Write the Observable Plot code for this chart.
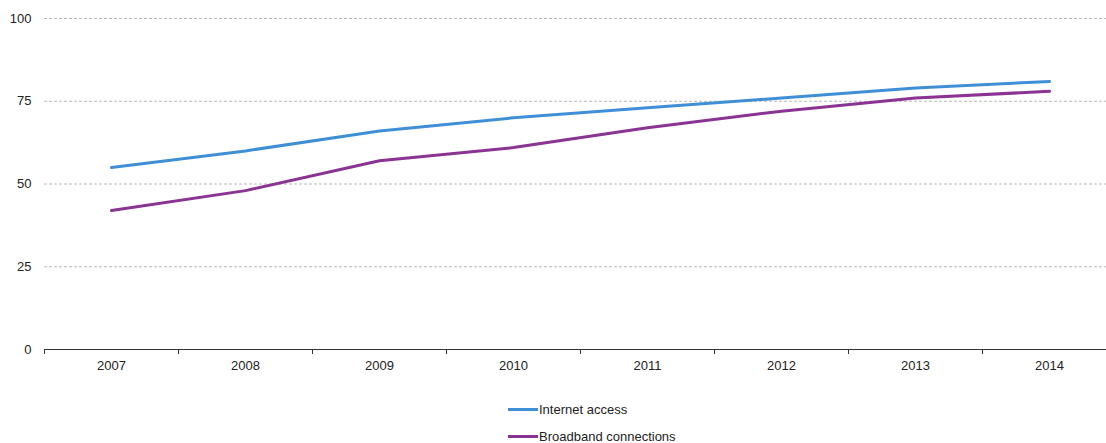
<!DOCTYPE html>
<html>
<head>
<meta charset="utf-8">
<script src="https://cdn.jsdelivr.net/npm/d3@7"></script>
<script src="https://cdn.jsdelivr.net/npm/@observablehq/plot@0.6"></script>
<style>
  html, body { margin: 0; padding: 0; background: #fff; overflow: hidden; }
  body { width: 1106px; height: 443px; position: relative; font-family: "Liberation Sans", Arial, sans-serif; }
  #legend { position: absolute; left: 508px; top: 396px; font-size: 13px; color: #222; }
  .item { display: flex; align-items: center; height: 27px; }
  .swatch { width: 30px; height: 3px; margin-right: 1px; }
</style>
</head>
<body>
<div id="chart"></div>
<div id="legend"></div>
<script>
const years = [2007, 2008, 2009, 2010, 2011, 2012, 2013, 2014];
const internetAccess = [55, 60, 66, 70, 73, 76, 79, 81];
const broadband = [42, 48, 57, 61, 67, 72, 76, 78];
const seriesNames = ["Internet access", "Broadband connections"];
const seriesColors = ["#3f8fd7", "#8b3393"];
const yTicks = [0, 25, 50, 75, 100];

const data = [
  ...years.map((y, i) => ({year: y, value: internetAccess[i], series: seriesNames[0]})),
  ...years.map((y, i) => ({year: y, value: broadband[i], series: seriesNames[1]}))
];
const boundaries = years.map(y => y - 0.5);

const chart = Plot.plot({
  width: 1106,
  height: 390,
  marginLeft: 44,
  marginRight: 0,
  marginTop: 18,
  marginBottom: 41,
  style: {fontFamily: "'Liberation Sans', Arial, sans-serif", fontSize: "13px", color: "#222", background: "#fff"},
  x: {domain: [2006.5, 2014.5], range: [44, 1116]},
  y: {domain: [0, 100]},
  color: {domain: seriesNames, range: seriesColors},
  marks: [
    Plot.ruleY([25, 50, 75, 100], {stroke: "#b8b8b8", strokeDasharray: "3,2", strokeWidth: 1}),
    Plot.axisY({ticks: yTicks, tickSize: 0, tickPadding: 13, label: null, fill: "#222"}),
    Plot.axisX({ticks: years, tickSize: 0, tickPadding: 11, tickFormat: d => String(d), label: null, fill: "#222"}),
    Plot.axisX({ticks: boundaries, tickSize: 5, tickFormat: () => "", label: null, stroke: "#333"}),
    Plot.ruleY([0], {stroke: "#333", strokeWidth: 1}),
    Plot.line(data, {x: "year", y: "value", z: "series", stroke: "series", strokeWidth: 3, strokeLinejoin: "round", strokeLinecap: "round"})
  ]
});
document.getElementById("chart").appendChild(chart);

const legend = document.getElementById("legend");
seriesNames.forEach((name, i) => {
  const item = document.createElement("div");
  item.className = "item";
  const sw = document.createElement("div");
  sw.className = "swatch";
  sw.style.background = seriesColors[i];
  const label = document.createElement("span");
  label.textContent = name;
  item.appendChild(sw);
  item.appendChild(label);
  legend.appendChild(item);
});
</script>
</body>
</html>
